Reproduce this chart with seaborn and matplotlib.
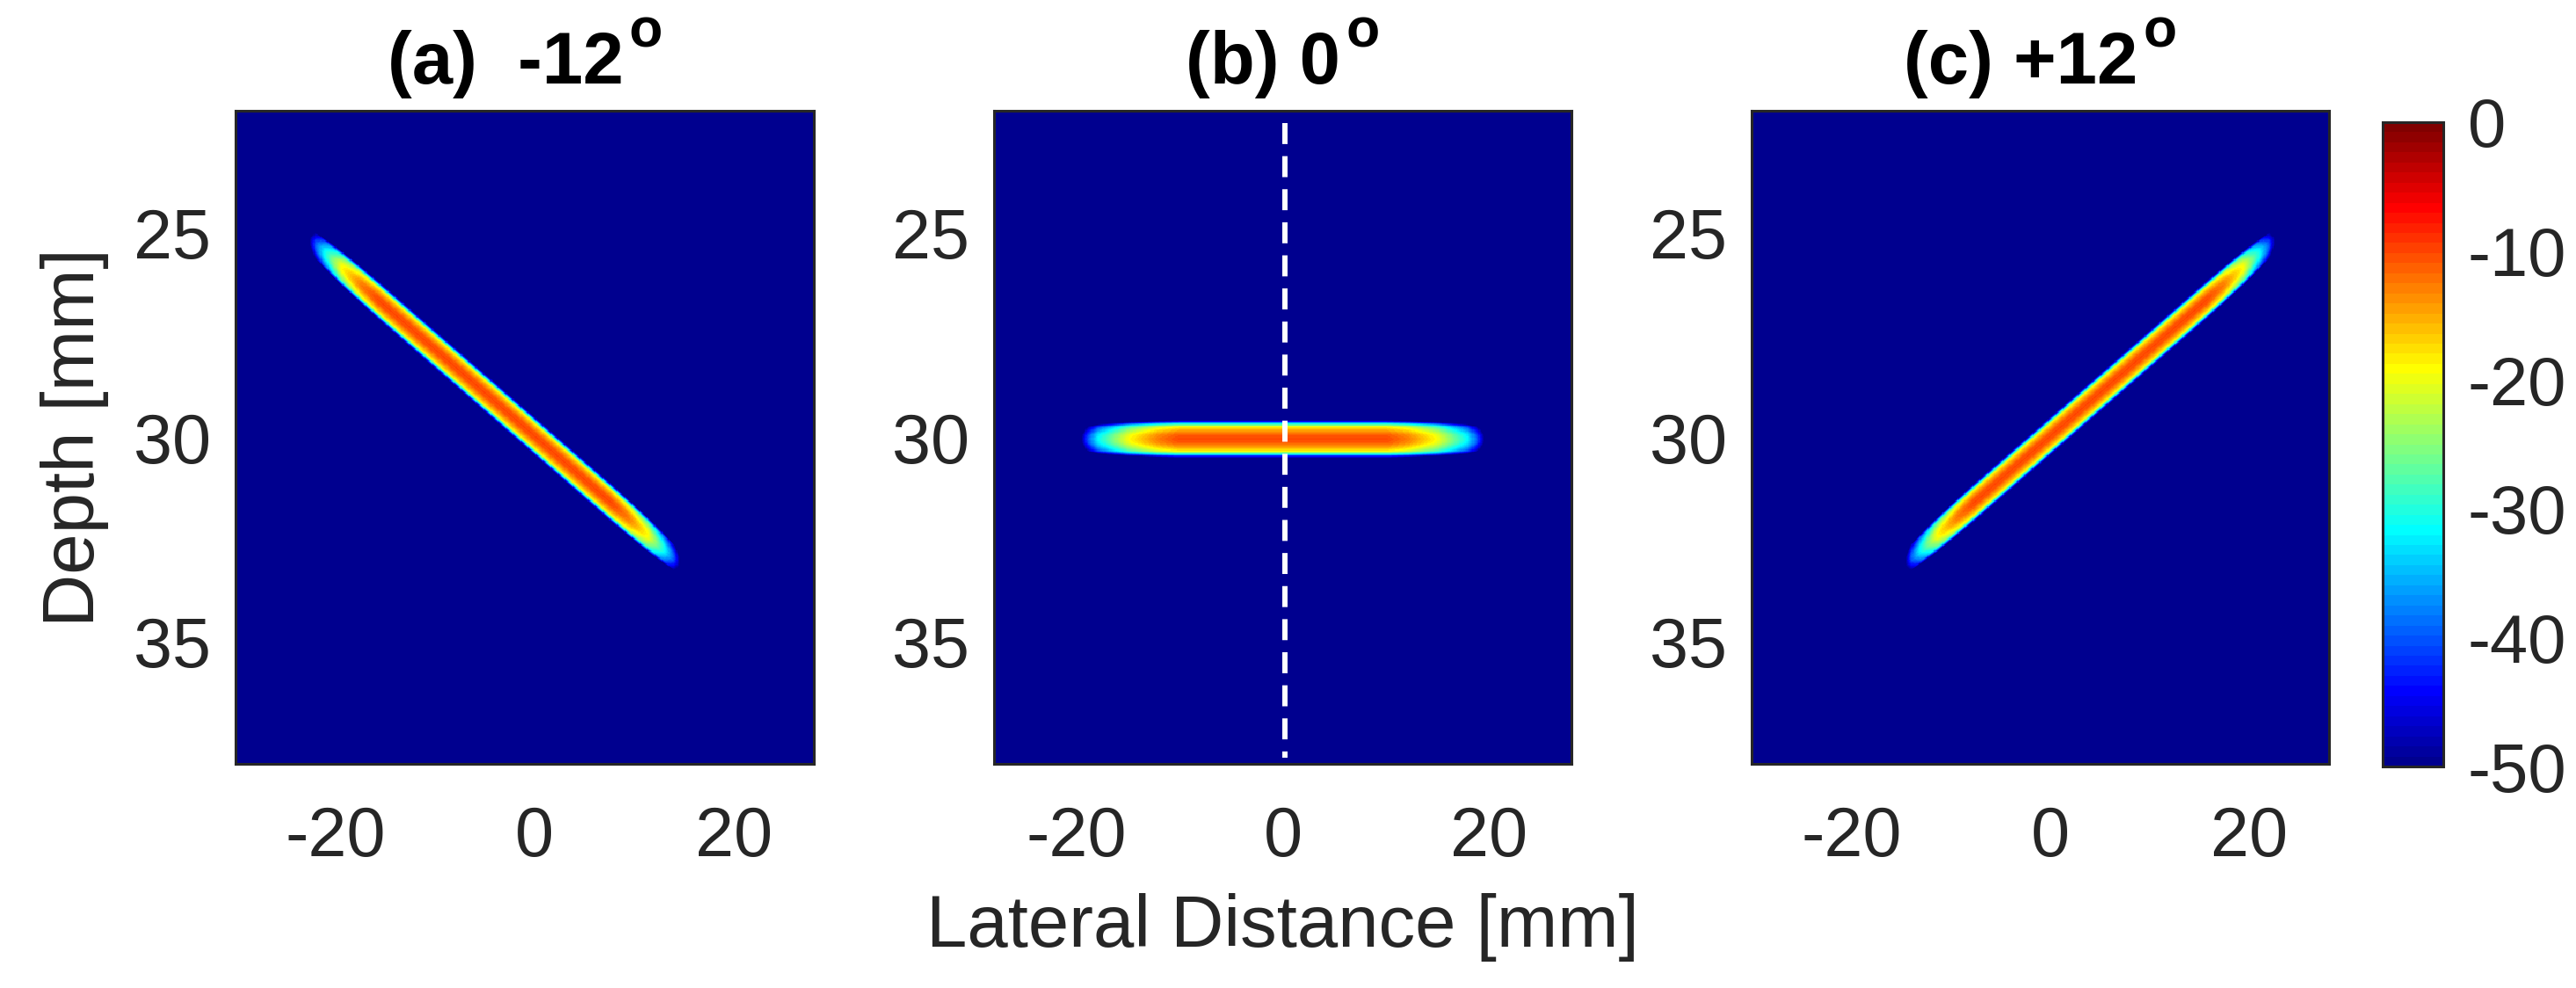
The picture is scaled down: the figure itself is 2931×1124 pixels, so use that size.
import numpy as np
import pandas as pd
import matplotlib
matplotlib.use("Agg")
import matplotlib.pyplot as plt
from matplotlib.colors import ListedColormap
from matplotlib.transforms import IdentityTransform
import seaborn as sns

# ---- values ----
titles = ["(a)  -12", "(b) 0", "(c) +12"]
title_sup = "o"
angles_deg = [12.0, 0.0, -12.0]          # tilt of the wavefront (depth grows with x in (a))
centers_x = [-4.0, 0.0, 4.0]             # mm
centers_z = [29.12, 30.04, 29.12]        # mm
half_lengths = [19.0, 19.6, 19.0]        # mm
x_limits = [(-30.0, 28.0), (-28.0, 28.0), (-30.0, 28.0)]
z_limits = (22.0, 38.0)

peak_db = -10.0
# level across the wavefront: distance from its centre line [mm] -> dB
cross_dist = [0.0, 0.10, 0.215, 0.30, 0.373, 0.43, 0.47]
cross_db = [-10.0, -11.0, -15.0, -19.0, -31.0, -45.0, -50.0]
# level along the wavefront near its ends: distance from the tip [mm] -> dB
tip_db = [-50.0, -40.0, -31.0, -19.0, -12.5, -10.0]
tip_dist_steered = [0.0, 0.6, 1.6, 3.3, 5.3, 7.0]
tip_dist_flat = [0.0, 0.7, 1.8, 4.7, 7.5, 9.5]
tip_dist = [tip_dist_steered, tip_dist_flat, tip_dist_steered]

x_ticks = [-20, 0, 20]
z_ticks = [25, 30, 35]
cbar_ticks = [-50, -40, -30, -20, -10, 0]
db_range = (-50, 0)

center_line_x = 0.25                     # dashed marker in (b)
center_line_z = (22.3, 37.85)

dx, dz = 0.1, 0.025                      # image grid spacing [mm]


def matlab_jet(m=64):
    n = int(np.ceil(m / 4))
    u = np.concatenate([np.arange(1, n + 1) / n, np.ones(n - 1), np.arange(n, 0, -1) / n])
    g = int(np.ceil(n / 2)) - (1 if m % 4 == 1 else 0) + np.arange(1, len(u) + 1)
    r = g + n
    b = g - n
    rgb = np.zeros((m, 3))
    for ch, idx in ((0, r), (1, g), (2, b)):
        keep = (idx >= 1) & (idx <= m)
        rgb[idx[keep] - 1, ch] = u[keep]
    return ListedColormap(rgb)


def wavefront_db(x, z, k):
    th = np.deg2rad(angles_deg[k])
    ox, oz = x - centers_x[k], z - centers_z[k]
    s = ox * np.cos(th) + oz * np.sin(th)
    t = -ox * np.sin(th) + oz * np.cos(th)
    across = np.interp(np.abs(t), cross_dist, cross_db)
    along = np.interp(half_lengths[k] - np.abs(s), tip_dist[k], tip_db)
    return np.clip(across + along - peak_db, *db_range)


sns.set_theme(style="white")
plt.rcParams["font.family"] = ["Liberation Sans", "DejaVu Sans"]
plt.rcParams["axes.unicode_minus"] = False

ink = "#262626"
jet = matlab_jet(64)

fig = plt.figure(figsize=(29.31, 11.24), dpi=100)
W, H = 2931, 1124
lefts = [268, 1131, 1993]
widths = [658, 657, 657]
axes = [fig.add_axes([l / W, (H - 869) / H, w / W, 743 / H]) for l, w in zip(lefts, widths)]
cax = fig.add_axes([2711 / W, (H - 872) / H, 69 / W, 733 / H])

z0, z1 = z_limits
nz = int(round((z1 - z0) / dz))
zs = z0 + (np.arange(nz) + 0.5) * dz

for k, ax in enumerate(axes):
    x0, x1 = x_limits[k]
    nx = int(round((x1 - x0) / dx))
    xs = x0 + (np.arange(nx) + 0.5) * dx
    X, Z = np.meshgrid(xs, zs)
    df = pd.DataFrame(wavefront_db(X, Z, k), index=np.round(zs, 3), columns=np.round(xs, 2))

    last = k == len(axes) - 1
    sns.heatmap(df, ax=ax, cmap=jet, vmin=db_range[0], vmax=db_range[1],
                cbar=last, cbar_ax=cax if last else None,
                cbar_kws={"ticks": cbar_ticks} if last else None,
                xticklabels=False, yticklabels=False, rasterized=True)

    ax.set_xticks([(v - x0) / dx for v in x_ticks], labels=[str(v) for v in x_ticks])
    ax.set_yticks([(v - z0) / dz for v in z_ticks], labels=[str(v) for v in z_ticks])
    ax.tick_params(direction="in", length=6, width=2, color=ink, labelcolor=ink,
                   top=True, right=True, labelsize=57)
    ax.tick_params(axis="x", pad=34, labelrotation=0)
    ax.tick_params(axis="y", pad=20, labelrotation=0)
    for sp in ax.spines.values():
        sp.set_visible(True)
        sp.set_color(ink)
        sp.set_linewidth(2.2)

    if k == 1:
        lx = (center_line_x - x0) / dx
        ax.plot([lx, lx], [(center_line_z[0] - z0) / dz, (center_line_z[1] - z0) / dz],
                color="white", lw=4.3, linestyle=(0, (4, 2.3)), solid_capstyle="butt")
        ax.set_xlabel("Lateral Distance [mm]", fontsize=60, color=ink, labelpad=18)
    if k == 0:
        ax.set_ylabel("Depth [mm]", fontsize=60, color=ink, labelpad=20)

cb = axes[-1].collections[0].colorbar
cb.outline.set_visible(True)
cb.outline.set_linewidth(2.2)
cb.outline.set_edgecolor(ink)
cax.tick_params(direction="in", length=6, width=2, color=ink, labelcolor=ink,
                labelsize=56, pad=20)

# titles with a raised "o" (degree), centred as a whole over each panel
fig.canvas.draw()
renderer = fig.canvas.get_renderer()
px = IdentityTransform()
for k, ax in enumerate(axes):
    box = ax.get_window_extent(renderer)
    cx = 0.5 * (box.x0 + box.x1)
    main = fig.text(0, box.y1 + 31, titles[k], transform=px, fontsize=60,
                    fontweight="bold", color="black", va="baseline", ha="left")
    sup = fig.text(0, box.y1 + 73, title_sup, transform=px, fontsize=45,
                   fontweight="bold", color="black", va="baseline", ha="left")
    w_main = main.get_window_extent(renderer).width
    w_sup = sup.get_window_extent(renderer).width
    gap = 6
    start = cx - 0.5 * (w_main + gap + w_sup)
    main.set_x(start)
    sup.set_x(start + w_main + gap)

fig.savefig("out.png", dpi=100)
